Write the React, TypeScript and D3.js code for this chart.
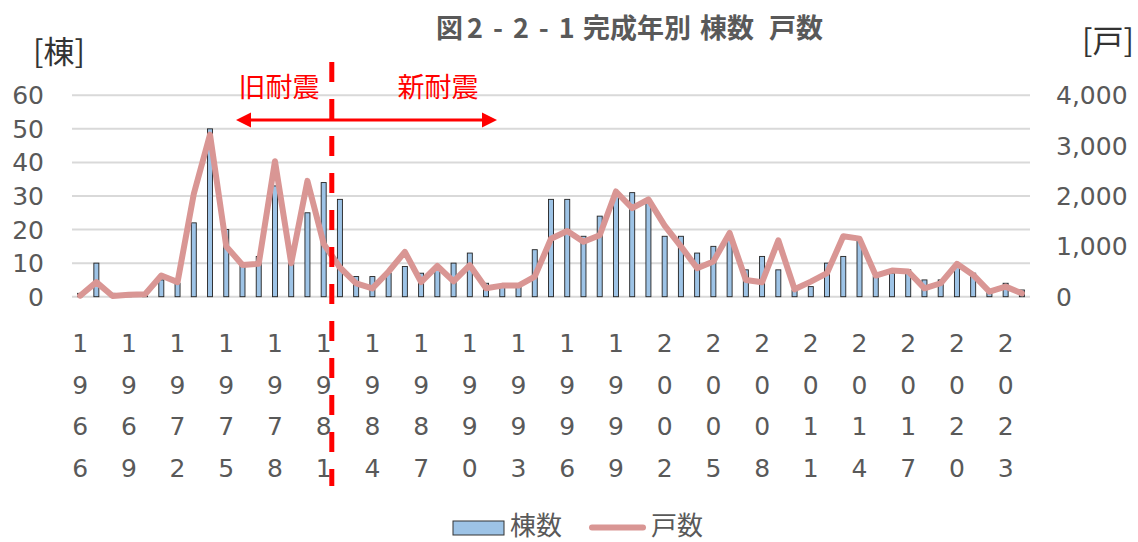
import React from 'react';
import * as d3 from 'd3';

// 完成年 (1966-2024)
const years = [
  1966, 1967, 1968, 1969, 1970, 1971, 1972, 1973, 1974, 1975,
  1976, 1977, 1978, 1979, 1980, 1981, 1982, 1983, 1984, 1985,
  1986, 1987, 1988, 1989, 1990, 1991, 1992, 1993, 1994, 1995,
  1996, 1997, 1998, 1999, 2000, 2001, 2002, 2003, 2004, 2005,
  2006, 2007, 2008, 2009, 2010, 2011, 2012, 2013, 2014, 2015,
  2016, 2017, 2018, 2019, 2020, 2021, 2022, 2023, 2024,
];

// 棟数
const buildings = [
  1, 10, 1, 1, 1, 5, 4, 22, 50, 20,
  10, 12, 33, 10, 25, 34, 29, 6, 6, 7,
  9, 7, 8, 10, 13, 4, 3, 3, 14, 29,
  29, 18, 24, 30, 31, 28, 18, 18, 13, 15,
  17, 8, 12, 8, 2, 3, 10, 12, 17, 6,
  7, 8, 5, 5, 9, 7, 2, 4, 2,
];

// 戸数
const units = [
  20, 290, 15, 40, 50, 420, 290, 2040, 3220, 1000,
  630, 655, 2690, 665, 2300, 1050, 580, 265, 165, 500,
  890, 290, 610, 305, 625, 167, 220, 220, 400, 1150,
  1305, 1090, 1220, 2090, 1757, 1933, 1413, 1000, 567, 700,
  1267, 333, 287, 1120, 147, 300, 470, 1200, 1153, 420,
  520, 500, 167, 267, 653, 433, 100, 200, 67,
];

const leftTicks = [0, 10, 20, 30, 40, 50, 60];
const rightTicks = [0, 1000, 2000, 3000, 4000];

const W = 1138;
const H = 542;
const plot = { left: 72, right: 1030, top: 95.3, bottom: 296.7 };
const gray = '#595959';
const numFont = "'DejaVu Sans', 'Noto Sans CJK JP', sans-serif";
const jpFont = "'Noto Sans CJK JP', sans-serif";

const App: React.FC = () => {
  const x = d3
    .scaleBand<number>()
    .domain(years)
    .range([plot.left, plot.right])
    .padding(0);
  const yL = d3.scaleLinear().domain([0, 60]).range([plot.bottom, plot.top]);
  const yR = d3.scaleLinear().domain([0, 4000]).range([plot.bottom, plot.top]);
  const cx = (yr: number) => x(yr)! + x.bandwidth() / 2;
  const barW = 5;

  const line = d3
    .line<number>()
    .x((_, i) => cx(years[i]))
    .y((d) => yR(d));

  const fmt = d3.format(',');
  const labelYears = years.filter((_, i) => i % 3 === 0);

  // 旧耐震/新耐震 border between 1981 and 1982
  const borderX = x(1982)!;

  return (
    <svg
      width={W}
      height={H}
      style={{ position: 'absolute', left: 0, top: 0, background: '#fff' }}
    >
      {/* title */}
      <text
        y={38}
        fill={gray}
        fontFamily={jpFont}
        fontWeight="bold"
        fontSize={27}
      >
        <tspan x={436}>図</tspan>
        <tspan x={467} letterSpacing={10}>2-2-1</tspan>
        <tspan x={583}>完成年別</tspan>
        <tspan x={700}>棟数</tspan>
        <tspan x={769}>戸数</tspan>
      </text>

      <text x={33} y={63} fill="#333" fontFamily={jpFont} fontSize={31}>
        [棟]
      </text>
      <text x={1082} y={52} fill="#333" fontFamily={jpFont} fontSize={31}>
        [戸]
      </text>

      {/* gridlines */}
      {leftTicks.map((t) => (
        <line
          key={t}
          x1={plot.left}
          x2={plot.right}
          y1={yL(t)}
          y2={yL(t)}
          stroke="#d9d9d9"
          strokeWidth={2}
        />
      ))}

      {/* left axis */}
      {leftTicks.map((t) => (
        <text
          key={t}
          x={44}
          y={yL(t) + 9}
          textAnchor="end"
          fill={gray}
          fontFamily={numFont}
          fontSize={25}
        >
          {t}
        </text>
      ))}

      {/* right axis */}
      {rightTicks.map((t) => (
        <text
          key={t}
          x={1056}
          y={yR(t) + 9}
          fill={gray}
          fontFamily={numFont}
          fontSize={25}
        >
          {fmt(t)}
        </text>
      ))}

      {/* bars */}
      {buildings.map((b, i) => (
        <rect
          key={years[i]}
          x={cx(years[i]) - barW / 2}
          y={yL(b)}
          width={barW}
          height={plot.bottom - yL(b)}
          fill="#9dc3e6"
          stroke="#222"
          strokeWidth={0.9}
        />
      ))}

      {/* line */}
      <path
        d={line(units)!}
        fill="none"
        stroke="#d99694"
        strokeWidth={6}
        strokeLinejoin="round"
        strokeLinecap="round"
      />

      {/* x labels, digits stacked */}
      {labelYears.map((yr) => (
        <text
          key={yr}
          textAnchor="middle"
          fill={gray}
          fontFamily={numFont}
          fontSize={25}
        >
          {String(yr)
            .split('')
            .map((c, j) => (
              <tspan key={j} x={cx(yr)} y={352 + j * 41.5}>
                {c}
              </tspan>
            ))}
        </text>
      ))}

      {/* 耐震 border */}
      <line
        x1={borderX}
        x2={borderX}
        y1={62}
        y2={486}
        stroke="#ff0000"
        strokeWidth={5}
        strokeDasharray="20 17"
      />
      <text
        x={279}
        y={97}
        textAnchor="middle"
        fill="#ff0000"
        fontFamily={jpFont}
        fontSize={27}
      >
        旧耐震
      </text>
      <text
        x={438}
        y={97}
        textAnchor="middle"
        fill="#ff0000"
        fontFamily={jpFont}
        fontSize={27}
      >
        新耐震
      </text>
      <line x1={250} x2={483} y1={120} y2={120} stroke="#ff0000" strokeWidth={3} />
      <path d="M236,120 L251,112.5 L251,127.5 Z" fill="#ff0000" />
      <path d="M497,120 L482,112.5 L482,127.5 Z" fill="#ff0000" />

      {/* legend */}
      <rect
        x={453}
        y={521}
        width={51}
        height={14}
        fill="#9dc3e6"
        stroke="#333"
        strokeWidth={1}
      />
      <text x={510} y={535} fill={gray} fontFamily={jpFont} fontSize={26}>
        棟数
      </text>
      <line
        x1={592}
        x2={643}
        y1={527.5}
        y2={527.5}
        stroke="#d99694"
        strokeWidth={6}
        strokeLinecap="round"
      />
      <text x={651} y={535} fill={gray} fontFamily={jpFont} fontSize={26}>
        戸数
      </text>
    </svg>
  );
};

export default App;
